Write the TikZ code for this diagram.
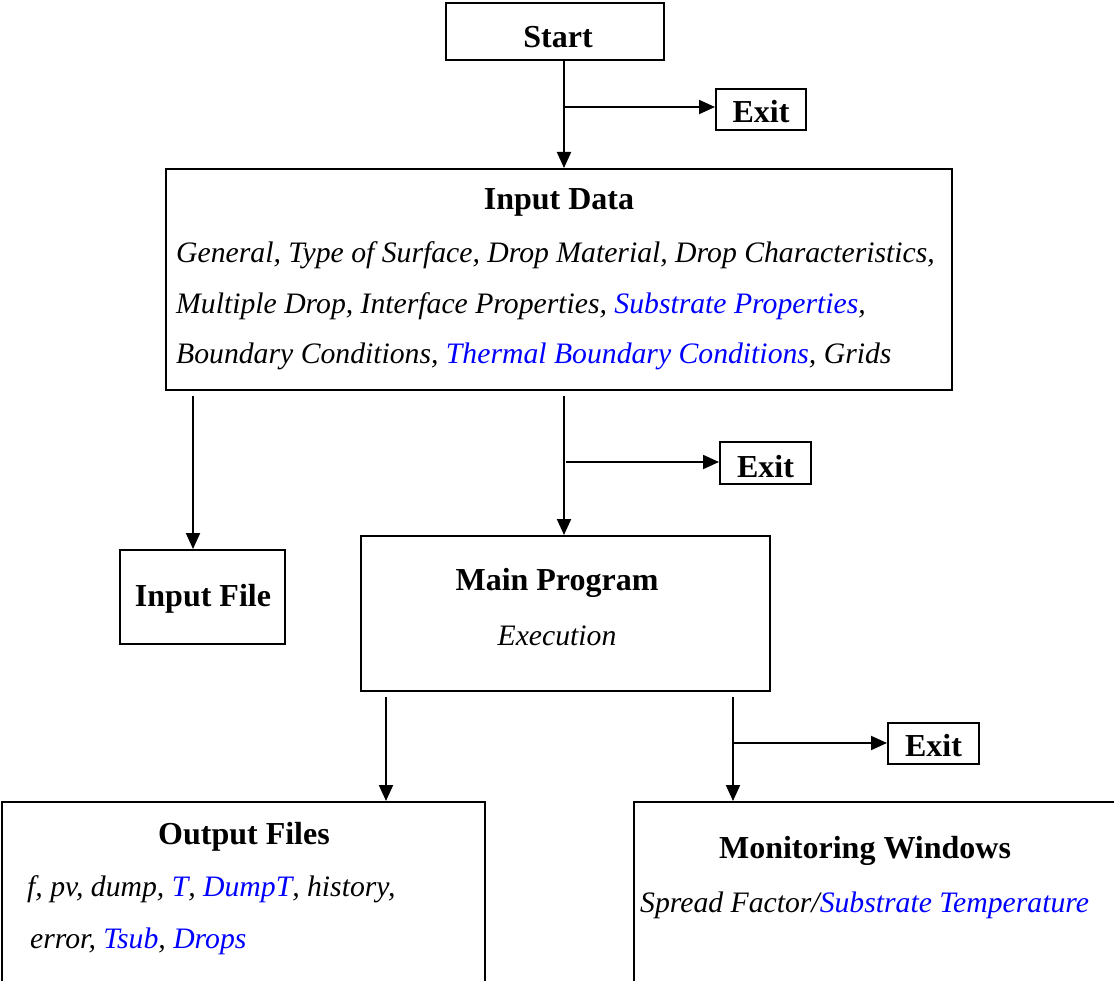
\documentclass[tikz,border=0pt]{standalone}
\usepackage{fontspec}
\setmainfont{Liberation Serif}
\usetikzlibrary{arrows.meta}
\definecolor{lnk}{RGB}{0,0,255}
\tikzset{
  box/.style={draw=black, line width=2pt, rectangle, inner sep=0pt, fill=none},
  ttl/.style={font=\fontsize{32}{37}\selectfont\bfseries, inner sep=0pt, anchor=base},
  itl/.style={font=\fontsize{29.7}{35}\selectfont\itshape, inner sep=0pt, anchor=base west},
  arr/.style={line width=2pt, -{Triangle[length=16pt,width=14pt]}},
}
\begin{document}
\begin{tikzpicture}[x=1pt,y=-1pt]
\useasboundingbox (0,0) rectangle (1114,981);
\clip (0,0) rectangle (1114,981);
% boxes
\node[box, minimum width=218pt, minimum height=57pt] (start) at (555,31.5) {};
\node[box, minimum width=90pt, minimum height=41pt] (exit1) at (761,109.5) {};
\node[box, minimum width=786pt, minimum height=221pt] (input) at (559,279.5) {};
\node[box, minimum width=165pt, minimum height=94pt] (ifile) at (202.5,597) {};
\node[box, minimum width=91pt, minimum height=42pt] (exit2) at (765.5,463) {};
\node[box, minimum width=409pt, minimum height=155pt] (main) at (565.5,613.5) {};
\node[box, minimum width=91pt, minimum height=41pt] (exit3) at (933.5,743.5) {};
\node[box, minimum width=483pt, minimum height=190pt] (out) at (243.5,897) {};
\node[box, minimum width=490pt, minimum height=190pt] (mon) at (879,897) {};
% texts
\node[ttl] (tstart) at (558,48) {Start};
\node[ttl] (texit1) at (761,123) {Exit};
\node[ttl] (tinput) at (559,210) {Input Data};
\node[itl] (l1) at (176,263) {General, Type of Surface, Drop Material, Drop Characteristics,};
\node[itl] (l2) at (176,314) {Multiple Drop, Interface Properties, \textcolor{lnk}{Substrate Properties}, };
\node[itl] (l3) at (176,364) {Boundary Conditions, \textcolor{lnk}{Thermal Boundary Conditions}, Grids};
\node[ttl] (texit2) at (765.5,477) {Exit};
\node[ttl] (tifile) at (203,606) {Input File};
\node[ttl] (tmain) at (557,590) {Main Program};
\node[itl, anchor=base] (texec) at (557,645) {Execution};
\node[ttl] (texit3) at (933.5,756) {Exit};
\node[ttl] (tout) at (244,844) {Output Files};
\node[itl] (o1) at (27,896) {f, pv, dump, \textcolor{lnk}{T}, \textcolor{lnk}{DumpT}, history,};
\node[itl] (o2) at (30,948) {error, \textcolor{lnk}{Tsub}, \textcolor{lnk}{Drops}};
\node[ttl] (tmon) at (865,858) {Monitoring Windows};
\node[itl] (m1) at (640,912) {Spread Factor/\textcolor{lnk}{Substrate Temperature}};
% connectors
\coordinate (b1) at (564,107);
\coordinate (b2) at (566,462);
\coordinate (b3) at (733,743);
\draw[arr] (start.south -| b1) -- (input.north -| b1);
\draw[arr] (b1) -- (exit1.west |- b1);
\draw[arr] ([yshift=-5pt]input.south -| 193,0) -- (ifile.north -| 193,0);
\draw[arr] ([yshift=-5pt]input.south -| b1) -- (main.north -| b1);
\draw[arr] (b2) -- (exit2.west |- b2);
\draw[arr] ([yshift=-5pt]main.south -| 386,0) -- (out.north -| 386,0);
\draw[arr] ([yshift=-5pt]main.south -| b3) -- (mon.north -| b3);
\draw[arr] (b3) -- (exit3.west |- b3);
\end{tikzpicture}
\end{document}
